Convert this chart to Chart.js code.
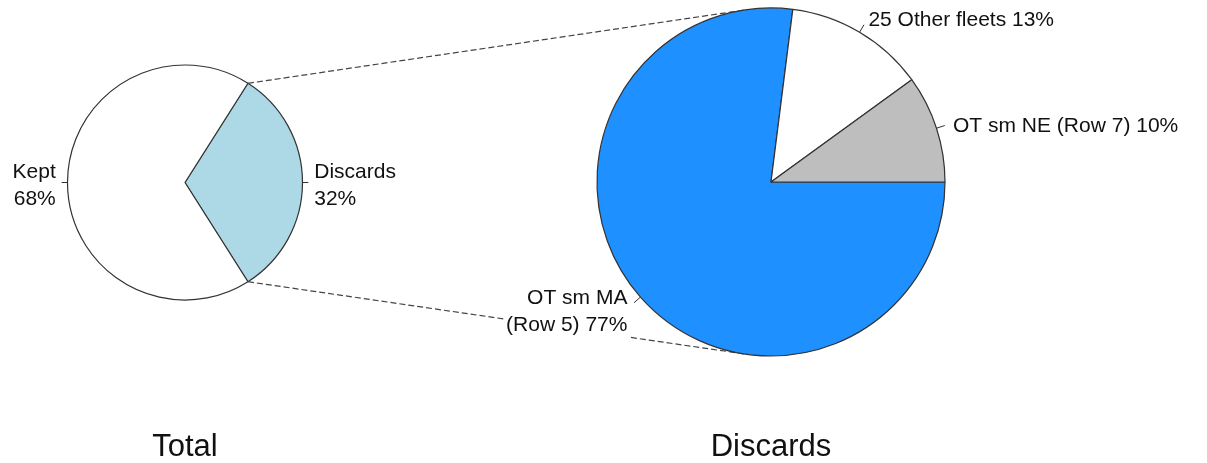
<!DOCTYPE html>
<html lang="en">
<head>
<meta charset="UTF-8">
<title>Total / Discards</title>
<script src="https://cdn.jsdelivr.net/npm/chart.js"></script>
<style>
    body {
        margin: 0;
        background: #fff;
    }
    .wrap {
        position: relative;
        width: 1207px;
        height: 463px;
    }
    .wrap canvas {
        position: absolute;
        left: 0;
        top: 0;
    }
</style>
</head>
<body>
<div class="wrap">
    <canvas id="totalChart" width="1207" height="463"></canvas>
    <canvas id="discardChart" width="1207" height="463"></canvas>
</div>
<script>
// values
const totalLabels = ['Discards', 'Kept'];
const totalValues = [32, 68];
const totalColors = ['#ADD8E6', '#FFFFFF'];

const discardLabels = ['OT sm MA\n(Row 5)', '25 Other fleets', 'OT sm NE (Row 7)'];
const discardValues = [77, 13, 10];
const discardColors = ['#1E90FF', '#FFFFFF', '#BEBEBE'];

const FONT = '"Liberation Sans", Arial, sans-serif';
const EDGE = '#333';

function sum(arr) {
    return arr.reduce((a, b) => a + b, 0);
}

// R-style pie labels: short tick at the rim, text just outside it
const pieLabels = {
    id: 'pieLabels',
    afterDatasetsDraw(chart, args, opts) {
        const ctx = chart.ctx;
        const meta = chart.getDatasetMeta(0);
        const values = chart.data.datasets[0].data;
        const total = sum(values);
        ctx.save();
        ctx.font = '21px ' + FONT;
        ctx.textBaseline = 'middle';
        meta.data.forEach((arc, i) => {
            const p = arc.getProps(['x', 'y', 'startAngle', 'endAngle', 'outerRadius'], true);
            const mid = (p.startAngle + p.endAngle) / 2;
            const c = Math.cos(mid), s = Math.sin(mid);
            const r = p.outerRadius;

            ctx.strokeStyle = EDGE;
            ctx.lineWidth = 1;
            ctx.beginPath();
            ctx.moveTo(p.x + c * r, p.y + s * r);
            ctx.lineTo(p.x + c * r * 1.05, p.y + s * r * 1.05);
            ctx.stroke();

            const pct = Math.round(values[i] / total * 100) + '%';
            const lines = (chart.data.labels[i] + opts.joiner + pct).split('\n');
            const tx = p.x + c * r * 1.1;
            const ty = p.y + s * r * 1.1 + 3;
            const lh = 27;
            const y0 = ty - (lines.length - 1) * lh / 2;
            ctx.textAlign = c >= 0 ? 'left' : 'right';

            // white box behind the text, the connector line stops at it
            const w = Math.max(...lines.map(l => ctx.measureText(l).width));
            const bx = c >= 0 ? tx - 2 : tx - w - 2;
            ctx.fillStyle = '#fff';
            ctx.fillRect(bx, y0 - lh / 2 + 2, w + 4, lines.length * lh - 2);

            ctx.fillStyle = '#111';
            lines.forEach((l, k) => ctx.fillText(l, tx, y0 + k * lh));
        });
        ctx.restore();
    }
};

// big title under each pie
const pieTitle = {
    id: 'pieTitle',
    afterDraw(chart, args, opts) {
        const ctx = chart.ctx;
        const arc = chart.getDatasetMeta(0).data[0];
        ctx.save();
        ctx.font = '31px ' + FONT;
        ctx.fillStyle = '#111';
        ctx.textAlign = 'center';
        ctx.textBaseline = 'alphabetic';
        ctx.fillText(opts.text, arc.x, 456);
        ctx.restore();
    }
};

// dashed tangents from the Discards slice to the big pie
const connectors = {
    id: 'connectors',
    beforeDatasetsDraw(chart) {
        const src = Chart.getChart('totalChart');
        if (!src) return;
        const a = src.getDatasetMeta(0).data[0].getProps(['x', 'y', 'startAngle', 'endAngle', 'outerRadius'], true);
        const b = chart.getDatasetMeta(0).data[0].getProps(['x', 'y', 'outerRadius'], true);
        const ctx = chart.ctx;
        ctx.save();
        ctx.strokeStyle = '#444';
        ctx.lineWidth = 1.2;
        ctx.setLineDash([6, 3]);
        [[a.startAngle, -1], [a.endAngle, 1]].forEach(([ang, side]) => {
            const px = a.x + Math.cos(ang) * a.outerRadius;
            const py = a.y + Math.sin(ang) * a.outerRadius;
            const dx = b.x - px, dy = b.y - py;
            const d = Math.hypot(dx, dy);
            const theta = Math.atan2(dy, dx) + side * Math.asin(b.outerRadius / d);
            const len = Math.sqrt(d * d - b.outerRadius * b.outerRadius);
            ctx.beginPath();
            ctx.moveTo(px, py);
            ctx.lineTo(px + Math.cos(theta) * len, py + Math.sin(theta) * len);
            ctx.stroke();
        });
        ctx.restore();
    }
};

function pieOptions(rotation, padding, title, joiner) {
    return {
        responsive: false,
        animation: false,
        events: [],
        rotation: rotation,
        layout: { padding: padding },
        plugins: {
            legend: { display: false },
            tooltip: { enabled: false },
            pieLabels: { joiner: joiner },
            pieTitle: { text: title }
        }
    };
}

// R draws counter-clockwise from 3 o'clock; Chart.js goes clockwise, so the
// slice order is reversed and the start is turned to the right.
new Chart(document.getElementById('totalChart'), {
    type: 'pie',
    data: {
        labels: totalLabels,
        datasets: [{
            data: totalValues,
            backgroundColor: totalColors,
            borderColor: EDGE,
            borderWidth: 1.2,
            radius: 117.5
        }]
    },
    options: pieOptions(90 - totalValues[0] / sum(totalValues) * 180,
        { left: 65, right: 902, top: 62.5, bottom: 160.5 }, 'Total', '\n'),
    plugins: [pieLabels, pieTitle]
});

new Chart(document.getElementById('discardChart'), {
    type: 'pie',
    data: {
        labels: discardLabels,
        datasets: [{
            data: discardValues,
            backgroundColor: discardColors,
            borderColor: EDGE,
            borderWidth: 1.2,
            radius: 174
        }]
    },
    options: pieOptions(90, { left: 591, right: 256, top: 2, bottom: 101 }, 'Discards', ' '),
    plugins: [connectors, pieLabels, pieTitle]
});
</script>
</body>
</html>
